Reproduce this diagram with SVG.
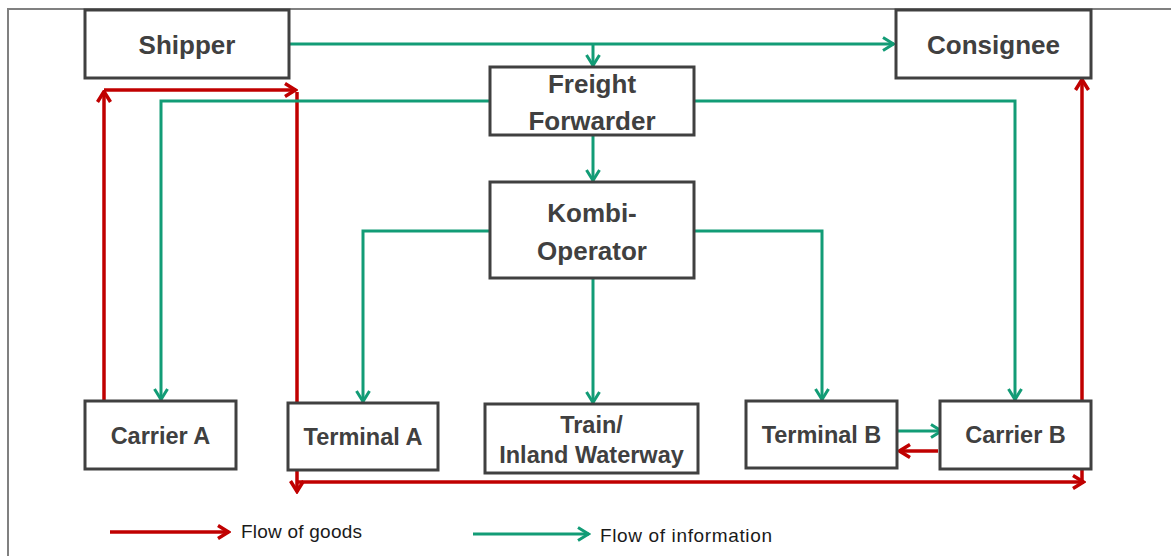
<svg xmlns="http://www.w3.org/2000/svg" width="1171" height="556" viewBox="0 0 1171 556">
<style>
.box{fill:#fff;stroke:#404040;stroke-width:3}
.lbl{font-family:"Liberation Sans",Arial,sans-serif;font-weight:bold;fill:#404040;text-anchor:middle}
.big{font-size:26px}
.small{font-size:23.5px}
.goods{fill:none;stroke:#c00000;stroke-width:3.5}
.info{fill:none;stroke:#129c76;stroke-width:3}
.leg{font-family:"Liberation Sans",Arial,sans-serif;font-size:19px;fill:#1a1a1a}
</style>
<defs>
<marker id="ag" viewBox="0 0 14 16" refX="12.5" refY="8" markerWidth="14" markerHeight="16" markerUnits="userSpaceOnUse" orient="auto">
<path d="M1.5,1.5 L12,8 L1.5,14.5" fill="none" stroke="#c00000" stroke-width="3.5"/>
</marker>
<marker id="ai" viewBox="0 0 14 16" refX="12.5" refY="8" markerWidth="14" markerHeight="16" markerUnits="userSpaceOnUse" orient="auto">
<path d="M1.5,1.5 L12,8 L1.5,14.5" fill="none" stroke="#129c76" stroke-width="3"/>
</marker>
</defs>
<rect width="1171" height="556" fill="#fff"/>
<path d="M8,556 V9 H1171" fill="none" stroke="#808080" stroke-width="2"/>

<g id="connectors">
<path class="goods" d="M104,401 V91" marker-end="url(#ag)"/>
<path class="goods" d="M104,90 H296" marker-end="url(#ag)"/>
<path class="goods" d="M297,92 V492" marker-end="url(#ag)"/>
<path class="goods" d="M298,482 H1084" marker-end="url(#ag)"/>
<path class="goods" d="M1082,482 V79" marker-end="url(#ag)"/>
<path class="goods" d="M938,451 H899" marker-end="url(#ag)"/>
<path class="info" d="M289,44 H894" marker-end="url(#ai)"/>
<path class="info" d="M593,44 V66" marker-end="url(#ai)"/>
<path class="info" d="M593,135 V181" marker-end="url(#ai)"/>
<path class="info" d="M490,101 H161 V400" marker-end="url(#ai)"/>
<path class="info" d="M694,101 H1015 V400" marker-end="url(#ai)"/>
<path class="info" d="M490,231 H363 V402" marker-end="url(#ai)"/>
<path class="info" d="M694,231 H822 V400" marker-end="url(#ai)"/>
<path class="info" d="M593,278 V403" marker-end="url(#ai)"/>
<path class="info" d="M897,431 H942" marker-end="url(#ai)"/>
</g>

<g id="shipper">
<rect class="box" x="85" y="10" width="204" height="68"/>
<text class="lbl big" x="187" y="54">Shipper</text>
</g>
<g id="consignee">
<rect class="box" x="896" y="10" width="195" height="68"/>
<text class="lbl big" x="993.5" y="54">Consignee</text>
</g>
<g id="freight-forwarder">
<rect class="box" x="490" y="67" width="204" height="68"/>
<text class="lbl big" x="592" y="93">Freight</text>
<text class="lbl big" x="592" y="130">Forwarder</text>
</g>
<g id="kombi-operator">
<rect class="box" x="490" y="182" width="204" height="96"/>
<text class="lbl big" x="592" y="222">Kombi-</text>
<text class="lbl big" x="592" y="260">Operator</text>
</g>
<g id="carrier-a">
<rect class="box" x="85" y="401" width="151" height="68"/>
<text class="lbl small" x="160.5" y="444">Carrier A</text>
</g>
<g id="terminal-a">
<rect class="box" x="288" y="403" width="150" height="67"/>
<text class="lbl small" x="363" y="445">Terminal A</text>
</g>
<g id="train-inland-waterway">
<rect class="box" x="485" y="404" width="213" height="69"/>
<text class="lbl small" x="591.5" y="433">Train/</text>
<text class="lbl small" x="591.5" y="463">Inland Waterway</text>
</g>
<g id="terminal-b">
<rect class="box" x="746" y="401" width="151" height="67"/>
<text class="lbl small" x="821.5" y="443">Terminal B</text>
</g>
<g id="carrier-b">
<rect class="box" x="940" y="401" width="151" height="68"/>
<text class="lbl small" x="1015.5" y="443">Carrier B</text>
</g>

<g id="legend">
<path class="goods" d="M110,532 H229" marker-end="url(#ag)"/>
<text class="leg" x="241" y="538" textLength="121">Flow of goods</text>
<path class="info" d="M473,534 H589" marker-end="url(#ai)"/>
<text class="leg" x="600" y="542" textLength="172">Flow of information</text>
</g>
</svg>
